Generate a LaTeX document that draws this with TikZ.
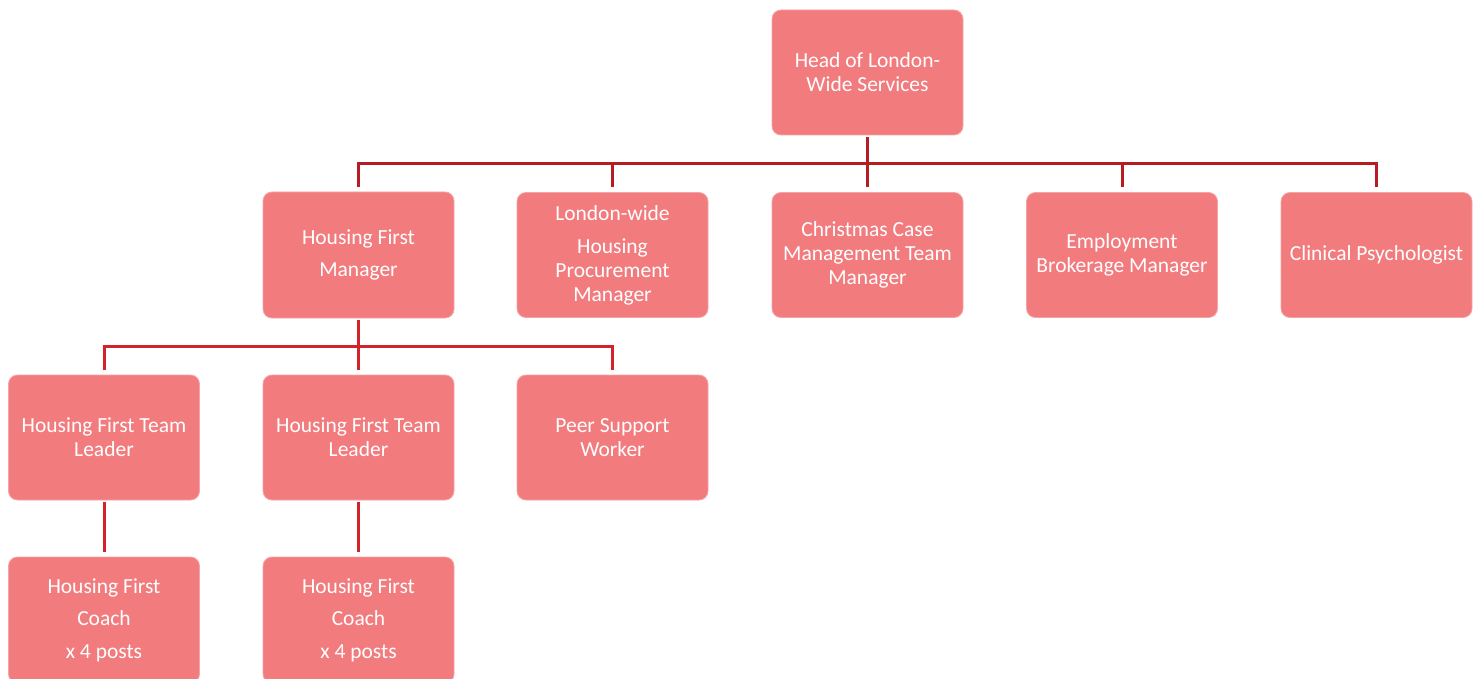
\documentclass[tikz,border=0pt]{standalone}
\usepackage{fontspec}
\setmainfont{Carlito}
\definecolor{boxfill}{HTML}{F27B7E}
\definecolor{boxedge}{HTML}{F6A3A5}
\definecolor{lineA}{HTML}{B51C24}
\definecolor{lineB}{HTML}{D2232A}
\begin{document}
\begin{tikzpicture}[x=1pt,y=-1pt,
  orgbox/.style={draw=boxedge,line width=0.8pt,fill=boxfill,rounded corners=9pt,
    minimum width=191pt,minimum height=125pt,text=white,align=center,inner sep=2pt,
    font=\fontsize{21.5}{24}\selectfont},
  tallbox/.style={orgbox,minimum height=126pt,font=\fontsize{21.5}{32.5}\selectfont},
  conA/.style={draw=lineA,line width=3pt,shorten <=2pt,shorten >=5pt},
  conB/.style={draw=lineB,line width=3pt,shorten <=2pt,shorten >=5pt}]
\useasboundingbox[fill=white] (0,0) rectangle (1480,679);
\begin{scope}
\clip (0,0) rectangle (1480,679);
\node[orgbox] (top) at (867.5,72.5) {Head of London-\\Wide Services};
\node[tallbox] (m1) at (358.5,255) {Housing First\\Manager};
\node[orgbox] (m2) at (612.5,255) {London-wide\\[9pt]Housing\\Procurement\\Manager};
\node[orgbox] (m3) at (867.5,255) {Christmas Case\\Management Team\\Manager};
\node[orgbox] (m4) at (1122,255) {Employment\\Brokerage Manager};
\node[orgbox] (m5) at (1376.5,255) {Clinical Psychologist};
\node[orgbox] (t1) at (104,437.5) {Housing First Team\\Leader};
\node[orgbox] (t2) at (358.5,437.5) {Housing First Team\\Leader};
\node[orgbox] (t3) at (612.5,437.5) {Peer Support\\Worker};
\node[tallbox] (c1) at (104,620) {Housing First\\Coach\\x 4 posts};
\node[tallbox] (c2) at (358.5,620) {Housing First\\Coach\\x 4 posts};
\end{scope}
\foreach \m in {m1,m2,m3,m4,m5}
  \draw[conA] (top.south) -- ++(0,28) -| (\m.north);
\foreach \t in {t1,t2,t3}
  \draw[conB] (m1.south) -- ++(0,28) -| (\t.north);
\draw[conB] (t1.south) -- (c1.north);
\draw[conB] (t2.south) -- (c2.north);
\end{tikzpicture}
\end{document}
